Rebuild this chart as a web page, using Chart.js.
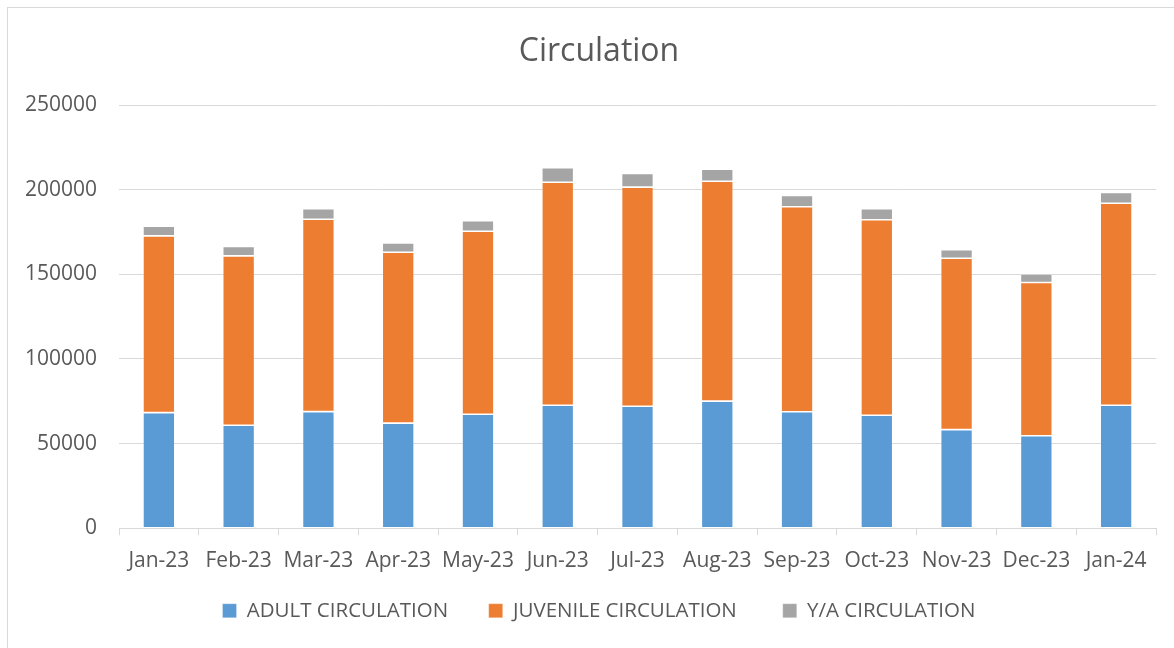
<!DOCTYPE html>
<html>
<head>
<meta charset="utf-8">
<script src="https://cdn.jsdelivr.net/npm/chart.js@4/dist/chart.umd.min.js"></script>
<style>
    body { margin: 0; background: #fff; overflow: hidden; }
    #wrap { position: relative; width: 1174px; height: 648px; }
    #frame { position: absolute; left: 7px; top: 7px; width: 1180px; height: 660px; border: 1px solid #d9d9d9; box-sizing: border-box; }
    canvas { position: absolute; left: 0; top: 0; }
</style>
</head>
<body>
<div id="wrap">
    <div id="frame"></div>
    <canvas id="chart" width="1174" height="648"></canvas>
</div>
<script>
const months = ['Jan-23', 'Feb-23', 'Mar-23', 'Apr-23', 'May-23', 'Jun-23', 'Jul-23', 'Aug-23', 'Sep-23', 'Oct-23', 'Nov-23', 'Dec-23', 'Jan-24'];
const adult = [68300, 60900, 68900, 62100, 67400, 72700, 72100, 75100, 68800, 66800, 58300, 54700, 72700];
const juvenile = [104400, 100000, 113600, 100900, 108000, 131700, 129400, 129900, 121100, 115400, 101200, 90500, 119300];
const youngAdult = [5700, 5500, 6200, 5600, 6300, 8500, 8100, 7100, 6700, 6500, 5000, 5000, 6300];
const yTicks = [0, 50000, 100000, 150000, 200000, 250000];

// Excel office palette
const palette = {
    blue: '#5B9BD5',
    orange: '#ED7D31',
    gray: '#A5A5A5',
    text: '#595959',
    grid: '#D9D9D9'
};

const font = 'Open Sans';

// extra room after each legend entry (Excel spaces them wider than Chart.js does)
const legendGaps = ['     ', '      ', ''];

const bar = (label, data, color) => ({
    label, data,
    backgroundColor: color,
    borderColor: 'rgba(255,255,255,0.35)',
    borderWidth: 0.8,
    borderSkipped: false,
    barPercentage: 0.4,
    categoryPercentage: 1
});

new Chart(document.getElementById('chart'), {
    type: 'bar',
    data: {
        labels: months,
        datasets: [
            bar('ADULT CIRCULATION', adult, palette.blue),
            bar('JUVENILE CIRCULATION', juvenile, palette.orange),
            bar('Y/A CIRCULATION', youngAdult, palette.gray)
        ]
    },
    options: {
        responsive: false,
        animation: false,
        layout: { padding: { left: 24, right: 0, top: 0, bottom: 17 } },
        plugins: {
            title: {
                display: true,
                text: 'Circulation',
                color: palette.text,
                font: { family: font, size: 32, weight: 'normal' },
                padding: { top: 33, bottom: 33.6 }
            },
            legend: {
                position: 'bottom',
                labels: {
                    color: palette.text,
                    font: { family: font, size: 20.5 },
                    boxWidth: 14,
                    boxHeight: 14,
                    padding: 14,
                    generateLabels: chart => Chart.defaults.plugins.legend.labels.generateLabels(chart)
                        .map((item, i) => ({ ...item, text: item.text + legendGaps[i] }))
                }
            },
            tooltip: { enabled: false }
        },
        scales: {
            x: {
                stacked: true,
                grid: { display: true, drawOnChartArea: false, drawTicks: true, tickLength: 7, color: palette.grid, offset: true },
                border: { display: true, color: palette.grid, width: 1 },
                ticks: { color: palette.text, font: { family: font, size: 21 }, padding: 13, maxRotation: 0, autoSkip: false }
            },
            y: {
                stacked: true,
                min: 0,
                max: 250000,
                afterFit: s => { s.width = 95; },
                afterBuildTicks: s => { s.ticks = yTicks.map(v => ({ value: v })); },
                grid: { color: palette.grid, lineWidth: 1, drawTicks: false },
                border: { display: false },
                ticks: { color: palette.text, font: { family: font, size: 21 }, padding: 22, callback: v => String(v) }
            },
            // empty right gutter so the title and legend centre like the original
            gutter: {
                position: 'right',
                afterFit: s => { s.width = 18; },
                grid: { display: false },
                border: { display: false },
                ticks: { display: false }
            }
        }
    }
});
</script>
</body>
</html>
